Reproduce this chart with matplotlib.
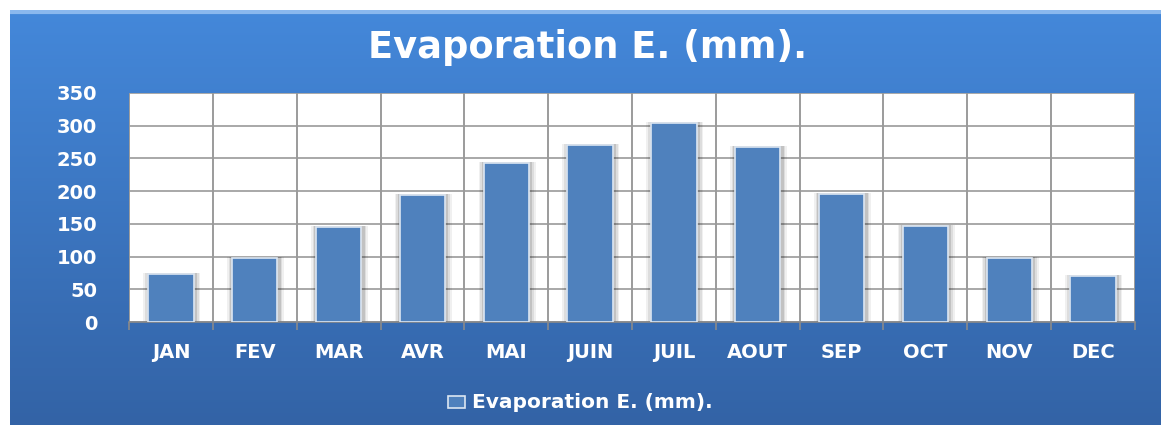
import numpy as np
import matplotlib
matplotlib.use('Agg')
import matplotlib.pyplot as plt
from matplotlib.patches import Rectangle

plt.rcParams['font.family'] = ['DejaVu Sans']

# data
months = ['JAN', 'FEV', 'MAR', 'AVR', 'MAI', 'JUIN', 'JUIL', 'AOUT', 'SEP', 'OCT', 'NOV', 'DEC']
evap = [74, 98, 145, 194, 243, 270, 304, 267, 195, 146, 98, 70]
series_name = 'Evaporation E. (mm).'

fig = plt.figure(figsize=(11.61, 4.25), dpi=100)
fig.patch.set_facecolor('white')

# blue gradient background frame
bg = fig.add_axes([10 / 1161, 0, 1 - 10 / 1161, 415 / 425])
grad = np.linspace(0, 1, 256).reshape(-1, 1)
top = np.array([0x44, 0x88, 0xda]) / 255
bot = np.array([0x33, 0x63, 0xa6]) / 255
img = top + (bot - top) * grad[:, :, None]
bg.imshow(img, aspect='auto', extent=[0, 1, 0, 1], origin='upper')
bg.plot([0, 1], [0.995, 0.995], color='#8ab8ee', lw=3)
bg.set_xlim(0, 1)
bg.set_ylim(0, 1)
bg.axis('off')

# plot area
W, H = 1161, 425
x0, x1, y0, y1 = 129, 1135, 322, 93
ax = fig.add_axes([x0 / W, 1 - y0 / H, (x1 - x0) / W, (y0 - y1) / H])
ax.set_facecolor('white')

x = np.arange(len(months))
bw = 0.54
# soft shadow
for k, a in zip([0.14, 0.10, 0.06], [0.06, 0.08, 0.12]):
    ax.bar(x + 0.01, np.array(evap) + 1.5, width=bw + k, color='black', alpha=a, lw=0, zorder=2)
ax.bar(x, evap, width=bw, color='#4f81bd', edgecolor='#dce6f2', linewidth=1.2, zorder=3)

ax.set_xlim(-0.5, len(months) - 0.5)
ax.set_ylim(0, 350)
ax.set_yticks(np.arange(0, 351, 50))
ax.set_xticks(x)
ax.set_xticklabels(months)
ax.set_xticks(np.arange(-0.5, len(months), 1), minor=True)
ax.grid(axis='y', color='#9a9a9a', lw=1.2, zorder=1)
ax.grid(axis='x', which='minor', color='#8a8a8a', lw=1.2, zorder=1)
ax.tick_params(axis='x', which='major', length=0, pad=15, labelsize=14, labelcolor='white')
ax.tick_params(axis='x', which='minor', length=6, color='#8a8a8a', width=1.2)
ax.tick_params(axis='y', length=0, pad=23, labelsize=14, labelcolor='white')
for s in ['top', 'right', 'left']:
    ax.spines[s].set_visible(False)
ax.spines['bottom'].set_color('#8a8a8a')
ax.spines['bottom'].set_linewidth(1.2)
for lab in ax.get_yticklabels() + ax.get_xticklabels():
    lab.set_fontweight('bold')

fig.text(588 / W, 1 - 48 / H, series_name, ha='center', va='center',
         fontsize=26.5, fontweight='bold', color='white')

# legend
fig.patches.append(Rectangle((448 / W, 1 - 408 / H), 17 / W, 12 / H, transform=fig.transFigure,
                             facecolor='#4f81bd', edgecolor='#dce6f2', lw=1.2))
fig.text(472 / W, 1 - 402 / H, series_name, ha='left', va='center',
         fontsize=14.5, fontweight='bold', color='white')

plt.savefig('out.png', dpi=100)
